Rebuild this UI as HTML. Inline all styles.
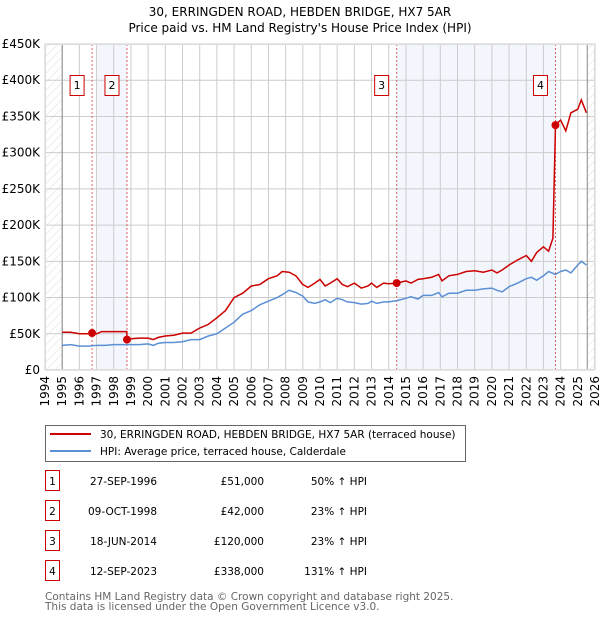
<!DOCTYPE html>
<html><head><meta charset="utf-8"><style>
body{margin:0;background:#fff;font-family:"DejaVu Sans","Liberation Sans",sans-serif;}
svg{display:block}
</style></head><body>
<svg id="chart" width="600" height="620" viewBox="0 0 600 620" xmlns="http://www.w3.org/2000/svg" font-family="DejaVu Sans, Liberation Sans, sans-serif">
<defs><pattern id="hatch" width="6" height="6" patternUnits="userSpaceOnUse" patternTransform="rotate(45)"><line x1="0" y1="0" x2="0" y2="6" stroke="#ddd" stroke-width="1"/></pattern></defs>
<text x="300" y="16" text-anchor="middle" font-size="12">30, ERRINGDEN ROAD, HEBDEN BRIDGE, HX7 5AR</text>
<text x="300" y="32" text-anchor="middle" font-size="12">Price paid vs. HM Land Registry's House Price Index (HPI)</text>
<g id="plot"></g>
<g>
<rect x="45.5" y="425.5" width="420" height="36" fill="#fff" stroke="#666"/>
<line x1="50" y1="434" x2="91" y2="434" stroke="#cc0000" stroke-width="2"/>
<text x="100" y="438" font-size="10.5">30, ERRINGDEN ROAD, HEBDEN BRIDGE, HX7 5AR (terraced house)</text>
<line x1="50" y1="451" x2="91" y2="451" stroke="#5b8fd6" stroke-width="2"/>
<text x="100" y="455" font-size="10.5">HPI: Average price, terraced house, Calderdale</text>
</g>
<g id="table" font-size="10.5"></g>
<text x="45" y="600" font-size="10.5" fill="#666">Contains HM Land Registry data © Crown copyright and database right 2025.</text>
<text x="45" y="610" font-size="10.5" fill="#666">This data is licensed under the Open Government Licence v3.0.</text>
</svg>
<script>
const hpiYears=[1995,1995.5,1996,1996.5,1997,1997.5,1998,1998.5,1999,1999.5,2000,2000.3,2000.6,2001,2001.5,2002,2002.5,2003,2003.5,2004,2004.5,2005,2005.5,2006,2006.5,2007,2007.5,2007.8,2008.2,2008.6,2009,2009.3,2009.7,2010,2010.3,2010.6,2011,2011.3,2011.6,2012,2012.4,2012.8,2013,2013.3,2013.7,2014,2014.5,2015,2015.3,2015.7,2016,2016.5,2016.9,2017.1,2017.5,2018,2018.5,2019,2019.5,2020,2020.3,2020.6,2021,2021.5,2022,2022.3,2022.6,2023,2023.3,2023.7,2024,2024.3,2024.6,2025,2025.2,2025.5];
const hpiValues=[34,35,33,33,34,34,35,35,35,35,36,34,37,38,38,39,42,42,47,50,58,66,77,82,90,95,100,104,110,107,102,94,92,94,97,93,99,97,94,93,91,92,95,92,94,94,96,99,101,98,103,103,107,101,106,106,110,110,112,113,110,108,115,120,126,128,124,130,136,132,136,138,134,145,150,145];
const redYears=[1995,1995.5,1996,1996.5,1996.74,1997,1997.3,1997.6,1998,1998.5,1998.76,1998.77,1999,1999.5,2000,2000.3,2000.6,2001,2001.5,2002,2002.5,2003,2003.5,2004,2004.5,2005,2005.5,2006,2006.5,2007,2007.5,2007.8,2008.2,2008.6,2009,2009.3,2009.7,2010,2010.3,2010.6,2011,2011.3,2011.6,2012,2012.4,2012.8,2013,2013.3,2013.7,2014,2014.46,2015,2015.3,2015.7,2016,2016.5,2016.9,2017.1,2017.5,2018,2018.5,2019,2019.5,2020,2020.3,2020.6,2021,2021.5,2022,2022.3,2022.6,2023,2023.3,2023.55,2023.7,2024,2024.3,2024.6,2025,2025.2,2025.5];
const redValues=[52,52,50,50,51,50,53,53,53,53,53,42,43,44,44,42,45,47,48,51,51,58,63,72,82,100,106,116,118,126,130,136,135,130,118,114,120,125,116,120,126,118,115,120,113,116,120,114,120,119,120,123,120,125,126,128,132,123,130,132,136,137,135,138,134,138,145,152,158,150,162,170,164,182,338,345,330,355,360,373,355];
const saleYears=[1996.74,1998.77,2014.46,2023.7];
const saleValues=[51,42,120,338];
const saleLabels=["1","2","3","4"];
const saleDates=["27-SEP-1996","09-OCT-1998","18-JUN-2014","12-SEP-2023"];
const salePrices=["£51,000","£42,000","£120,000","£338,000"];
const saleHpi=["50% ↑ HPI","23% ↑ HPI","23% ↑ HPI","131% ↑ HPI"];
const yTicks=[0,50,100,150,200,250,300,350,400,450];
const yTickLabels=["£0","£50K","£100K","£150K","£200K","£250K","£300K","£350K","£400K","£450K"];
const xTicks=[1994,1995,1996,1997,1998,1999,2000,2001,2002,2003,2004,2005,2006,2007,2008,2009,2010,2011,2012,2013,2014,2015,2016,2017,2018,2019,2020,2021,2022,2023,2024,2025,2026];

const X0=45,X1=595,Y0=370,Y1=44;
const xs=t=>X0+(t-1994)/(2026-1994)*(X1-X0);
const ys=v=>Y0-v/450*(Y0-Y1);
const NS="http://www.w3.org/2000/svg";
const plot=document.getElementById('plot');
function mk(tag,attrs,parent){const e=document.createElementNS(NS,tag);for(const k in attrs)e.setAttribute(k,attrs[k]);(parent||plot).appendChild(e);return e;}

mk('rect',{x:X0,y:Y1,width:X1-X0,height:Y0-Y1,fill:'#fff'});
let s1=mk('rect',{x:xs(1997.05),y:Y1,width:xs(saleYears[1])-xs(1997.05),height:Y0-Y1,fill:'#f3f6fd'});


let s2=mk('rect',{x:xs(saleYears[2]),y:Y1,width:xs(saleYears[3])-xs(saleYears[2]),height:Y0-Y1,fill:'#f3f6fd'});


let h1=mk('rect',{x:X0,y:Y1,width:xs(1995)-X0,height:Y0-Y1,fill:'url(#hatch)'});


let h2=mk('rect',{x:xs(2025.55),y:Y1,width:X1-xs(2025.55),height:Y0-Y1,fill:'url(#hatch)'});


yTicks.forEach((v,i)=>{
 mk('line',{x1:X0,x2:X1,y1:ys(v),y2:ys(v),stroke:'#ccc','stroke-width':1});
 const t=mk('text',{x:X0-5,y:ys(v)+4,'text-anchor':'end','font-size':12});
 t.textContent=yTickLabels[i];
 
 
});
xTicks.forEach(yr=>{
 mk('line',{x1:xs(yr),x2:xs(yr),y1:Y1,y2:Y0,stroke:'#ccc','stroke-width':1});
 const t=mk('text',{x:0,y:0,'font-size':12,'text-anchor':'end',transform:`translate(${xs(yr)+4},${Y0+6}) rotate(-90)`});
 t.textContent=yr;
 
 
});
mk('line',{x1:xs(1995),x2:xs(1995),y1:Y1,y2:Y0,stroke:'#888'});
mk('line',{x1:xs(2025.55),x2:xs(2025.55),y1:Y1,y2:Y0,stroke:'#888'});
saleYears.forEach((yr,i)=>{
 mk('line',{x1:xs(yr),x2:xs(yr),y1:Y1,y2:Y0,stroke:'#e06060','stroke-dasharray':'2,2','stroke-width':1});
 const g=mk('g',{});
 
 
 mk('rect',{x:xs(yr)-22,y:75.5,width:14,height:20,fill:'#fff',stroke:'#cc0000'},g);
 const t=mk('text',{x:xs(yr)-15,y:89,'text-anchor':'middle','font-size':11},g);
 t.textContent=saleLabels[i];
});
const path=(xa,va)=>xa.map((t,i)=>(i?'L':'M')+xs(t).toFixed(1)+','+ys(va[i]).toFixed(1)).join('');
const hl=mk('path',{d:path(hpiYears,hpiValues),fill:'none',stroke:'#5b8fd6','stroke-width':1.5});


const rl=mk('path',{d:path(redYears,redValues),fill:'none',stroke:'#cc0000','stroke-width':1.5});


saleYears.forEach((yr,i)=>{
 const c=mk('circle',{cx:xs(yr),cy:ys(saleValues[i]),r:4,fill:'#cc0000'});
 
 
});
mk('rect',{x:X0+0.5,y:Y1+0.5,width:X1-X0-1,height:Y0-Y1-1,fill:'none',stroke:'#ddd'});
const tb=document.getElementById('table');
saleLabels.forEach((l,i)=>{
 const y=483+i*30;
 const g=mk('g',{},tb);
 
 
 mk('rect',{x:45.5,y:y-12.5,width:14,height:20,fill:'#fff',stroke:'#cc0000'},g);
 let t=mk('text',{x:52.5,y:y+2,'text-anchor':'middle'},g);t.textContent=l;
 t=mk('text',{x:157,y:y+2,'text-anchor':'end'},g);t.textContent=saleDates[i];
 t=mk('text',{x:264,y:y+2,'text-anchor':'end'},g);t.textContent=salePrices[i];
 t=mk('text',{x:367,y:y+2,'text-anchor':'end'},g);t.textContent=saleHpi[i];
});
</script>
</body></html>
